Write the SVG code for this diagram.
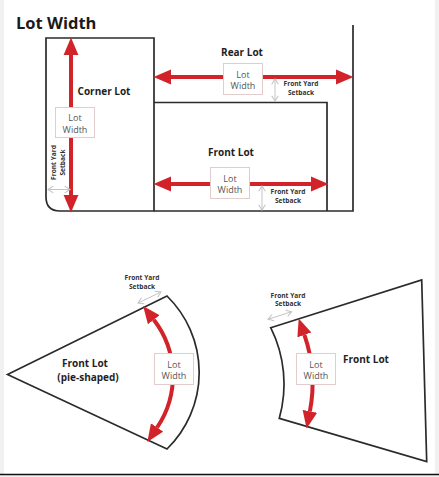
<svg xmlns="http://www.w3.org/2000/svg" width="439" height="477" viewBox="0 0 439 477">
<style>
.lot{fill:none;stroke:#2b2b2b;stroke-width:1.7}
.red{fill:none;stroke:#d2232a;stroke-width:4;marker-start:url(#ah);marker-end:url(#ah)}
.gray{fill:none;stroke:#c4c4c4;stroke-width:1;marker-start:url(#gh);marker-end:url(#gh)}
.box{fill:#fff;stroke:#e2cccc;stroke-width:1}
.lbl{font-family:"Open Sans","Liberation Sans",sans-serif;font-weight:bold;font-size:10px;fill:#1e1e1e;text-anchor:middle}
.bt{font-family:"Open Sans","Liberation Sans",sans-serif;font-size:9px;fill:#555;text-anchor:middle}
.sb{font-family:"Open Sans","Liberation Sans",sans-serif;font-weight:bold;font-size:6.6px;fill:#333;text-anchor:middle}
</style>
<defs>
<marker id="ah" markerUnits="userSpaceOnUse" markerWidth="18" markerHeight="16" refX="0" refY="7" orient="auto-start-reverse" viewBox="0 0 17 14">
<path d="M0,0 L16.5,7 L0,14 Z" fill="#d2232a"/>
</marker>
<marker id="gh" markerUnits="userSpaceOnUse" markerWidth="8" markerHeight="8" refX="4" refY="3" orient="auto-start-reverse" viewBox="0 0 5 6">
<path d="M0,0.5 L4,3 L0,5.5" fill="none" stroke="#c4c4c4" stroke-width="0.8"/>
</marker>
</defs>
<rect x="0" y="0" width="439" height="477" fill="#f1f1f1"/>
<rect x="4" y="0" width="431" height="474" fill="#fff"/>
<line x1="0" y1="474.5" x2="439" y2="474.5" stroke="#111" stroke-width="1.6"/>
<text x="16" y="29" font-family="'Open Sans','Liberation Sans',sans-serif" font-weight="bold" font-size="16.5" fill="#1a1a1a">Lot Width</text>

<g id="corner-lot">
<path class="lot" d="M46,38 L154,38 L154,211 L60,211 Q46,211 46,197 Z"/>
<text class="lbl" x="104" y="94.5">Corner Lot</text>
</g>
<g id="rear-lot">
<path class="lot" d="M154,211 L353,211 L353,25"/>
<text class="lbl" x="242" y="55.5">Rear Lot</text>
</g>
<g id="front-lot">
<path class="lot" d="M154,102.5 L327,102.5 L327,211"/>
<text class="lbl" x="231" y="155.5">Front Lot</text>
</g>
<g id="pie-lot">
<path class="lot" d="M7.5,374.5 L167,296 A107,107 0 0 1 167,449 Z"/>
<text class="lbl" x="85" y="366.5">Front Lot</text>
<text class="lbl" x="88" y="380.5">(pie-shaped)</text>
</g>
<g id="right-lot">
<path class="lot" d="M270.7,327.7 L421.7,280 L426.7,461.5 L279.3,418.3 A126,126 0 0 0 270.7,327.7 Z"/>
<text class="lbl" x="366" y="362.5">Front Lot</text>
</g>

<g id="connectors">
<path class="red" d="M71,55 L71,195"/>
<path class="red" d="M171,77 L336,77"/>
<path class="red" d="M171,184 L311,184"/>
<path class="red" d="M153.8,319.8 A92,92 0 0 1 157.1,427.5"/>
<path class="red" d="M304.4,334.9 A148,148 0 0 1 309.9,411.3"/>
<path class="gray" d="M48,189.5 L70,189.5"/>
<path class="gray" d="M275,79 L275,101"/>
<path class="gray" d="M262,186 L262,210"/>
<path class="gray" d="M138,303 L161,292"/>
<path class="gray" d="M268,319.3 L291.7,311.7"/>
</g>

<g id="corner-width-label">
<rect class="box" x="55.5" y="107.5" width="39" height="30"/>
<text class="bt" x="75" y="121">Lot</text>
<text class="bt" x="75" y="132.5">Width</text>
</g>
<g id="rear-width-label">
<rect class="box" x="223.5" y="63.5" width="39" height="31"/>
<text class="bt" x="243" y="77.5">Lot</text>
<text class="bt" x="243" y="89">Width</text>
</g>
<g id="front-width-label">
<rect class="box" x="210.5" y="167.5" width="39" height="31"/>
<text class="bt" x="230" y="181.5">Lot</text>
<text class="bt" x="230" y="193">Width</text>
</g>
<g id="pie-width-label">
<rect class="box" x="154.5" y="353.5" width="39" height="31"/>
<text class="bt" x="174" y="367.5">Lot</text>
<text class="bt" x="174" y="379">Width</text>
</g>
<g id="right-width-label">
<rect class="box" x="296.5" y="353.5" width="39" height="31"/>
<text class="bt" x="316" y="367.5">Lot</text>
<text class="bt" x="316" y="379">Width</text>
</g>

<g id="setback-labels">
<text class="sb" transform="translate(56,162.5) rotate(-90)">Front Yard</text>
<text class="sb" transform="translate(65,162.5) rotate(-90)">Setback</text>
<text class="sb" x="301" y="85.5">Front Yard</text>
<text class="sb" x="301" y="94.5">Setback</text>
<text class="sb" x="288" y="193.5">Front Yard</text>
<text class="sb" x="288" y="202.5">Setback</text>
<text class="sb" x="142" y="280">Front Yard</text>
<text class="sb" x="142" y="289">Setback</text>
<text class="sb" x="288" y="297.5">Front Yard</text>
<text class="sb" x="288" y="306">Setback</text>
</g>
</svg>
